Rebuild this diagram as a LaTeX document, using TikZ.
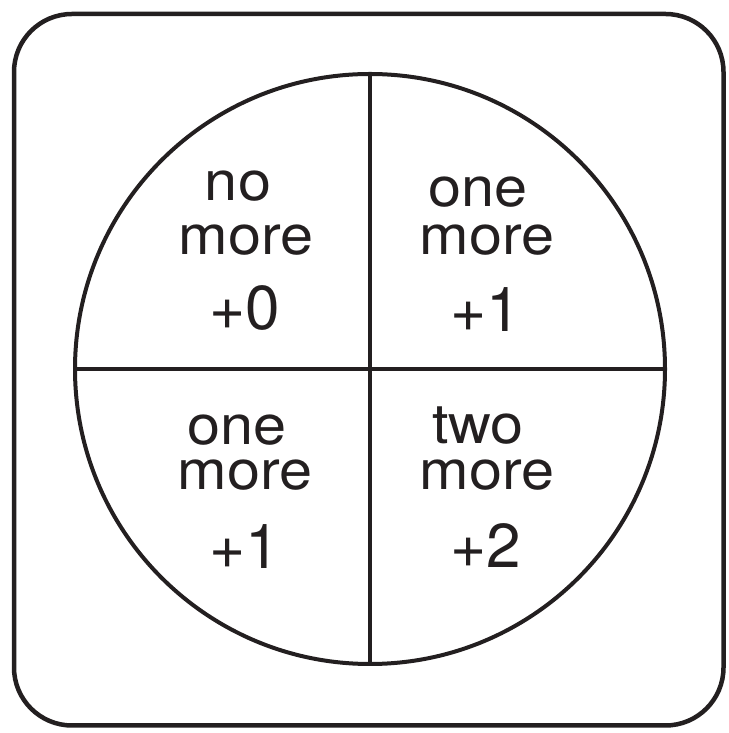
\documentclass[tikz,border=0pt]{standalone}
\usepackage{fontspec}
\setmainfont{TeX Gyre Heros}
\newfontfamily\wordfont[FakeStretch=1.08]{TeX Gyre Heros}
\definecolor{ink}{HTML}{231F20}
\begin{document}
\begin{tikzpicture}[x=1pt,y=1pt,
  word/.style={anchor=base,inner sep=0pt,text=ink,text height=30pt,text depth=0pt,font=\wordfont\fontsize{55}{60}\selectfont},
  num/.style={anchor=base,inner sep=0pt,text=ink,font=\fontsize{62}{66}\selectfont}]
\useasboundingbox (0,0) rectangle (728,733);
\draw[ink,line width=4.5pt,rounded corners=58pt] (14,7.5) rectangle (723.5,719);
\node[draw=ink,line width=4pt,circle,minimum size=590pt,inner sep=0pt] (c) at (370,364) {};
\draw[ink,line width=3.5pt] (c.north) -- (c.south);
\draw[ink,line width=3.5pt] (c.west) -- (c.east);
% top-left
\node[word] (tl1) at (238,532) {no};
\node[word] (tl2) at (246,478) {more};
\node[num]  (tl3) at (245,403) {+0};
% top-right
\node[word] (tr1) at (478,526) {one};
\node[word] (tr2) at (487,478) {more};
\node[num]  (tr3) at (486,401) {+1};
% bottom-left
\node[word] (bl1) at (237,288) {one};
\node[word] (bl2) at (245,243) {more};
\node[num]  (bl3) at (245,164) {+1};
% bottom-right
\node[word] (br1) at (478,289) {two};
\node[word] (br2) at (487,243) {more};
\node[num]  (br3) at (486,165) {+2};
\end{tikzpicture}
\end{document}
